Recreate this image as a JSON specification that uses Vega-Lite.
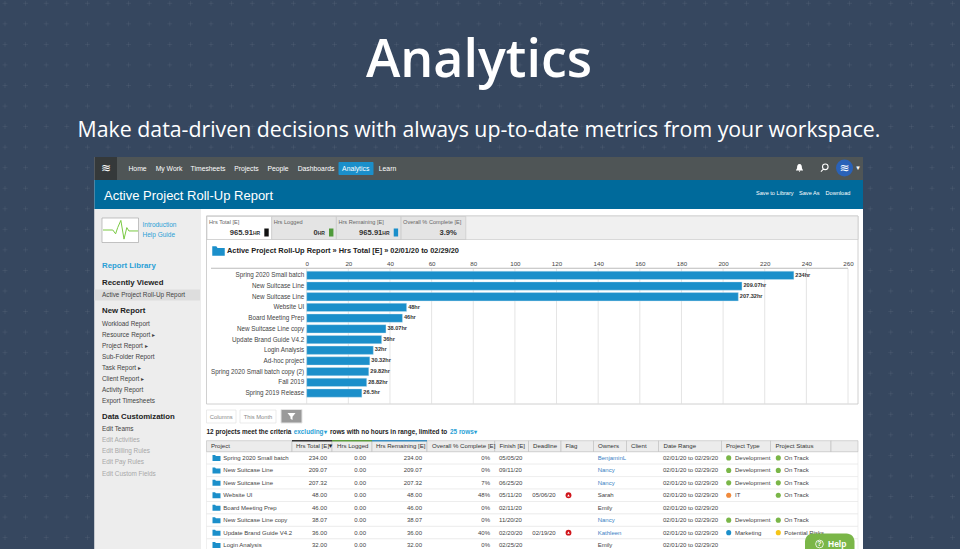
{"$schema":"https://vega.github.io/schema/vega-lite/v6.json","width":960,"height":549,"padding":0,"autosize":{"type":"none"},"background":"#36475f","data":{"values":[{"view":"app"}]},
"datasets":{"table":[
{"row":1,"project":"Spring 2020 Small batch","total":"234.00","logged":"0.00","remaining":"234.00","overall":"0%","finish":"05/05/20","deadline":"","flag":"","owner":"BenjaminL","linked":true,"range":"02/01/20 to 02/29/20","type":"Development","status":"On Track"},
{"row":2,"project":"New Suitcase Line","total":"209.07","logged":"0.00","remaining":"209.07","overall":"0%","finish":"09/11/20","deadline":"","flag":"","owner":"Nancy","linked":true,"range":"02/01/20 to 02/29/20","type":"Development","status":"On Track"},
{"row":3,"project":"New Suitcase Line","total":"207.32","logged":"0.00","remaining":"207.32","overall":"7%","finish":"06/25/20","deadline":"","flag":"","owner":"Nancy","linked":true,"range":"02/01/20 to 02/29/20","type":"Development","status":"On Track"},
{"row":4,"project":"Website UI","total":"48.00","logged":"0.00","remaining":"48.00","overall":"48%","finish":"05/11/20","deadline":"05/06/20","flag":"late","owner":"Sarah","linked":false,"range":"02/01/20 to 02/29/20","type":"IT","status":"On Track"},
{"row":5,"project":"Board Meeting Prep","total":"46.00","logged":"0.00","remaining":"46.00","overall":"0%","finish":"02/11/20","deadline":"","flag":"","owner":"Emily","linked":false,"range":"02/01/20 to 02/29/20","type":"","status":""},
{"row":6,"project":"New Suitcase Line copy","total":"38.07","logged":"0.00","remaining":"38.07","overall":"0%","finish":"11/20/20","deadline":"","flag":"","owner":"Nancy","linked":true,"range":"02/01/20 to 02/29/20","type":"Development","status":"On Track"},
{"row":7,"project":"Update Brand Guide V4.2","total":"36.00","logged":"0.00","remaining":"36.00","overall":"40%","finish":"02/20/20","deadline":"02/19/20","flag":"late","owner":"Kathleen","linked":true,"range":"02/01/20 to 02/29/20","type":"Marketing","status":"Potential Risks"},
{"row":8,"project":"Login Analysis","total":"32.00","logged":"0.00","remaining":"32.00","overall":"0%","finish":"02/25/20","deadline":"","flag":"","owner":"Emily","linked":false,"range":"02/01/20 to 02/29/20","type":"","status":""}],
"bars":[{"project":"Spring 2020 Small batch","hours":234,"label":"234hr"},{"project":"New Suitcase Line","hours":209.07,"label":"209.07hr"},{"project":"New Suitcase Line ","hours":207.32,"label":"207.32hr"},{"project":"Website UI","hours":48,"label":"48hr"},{"project":"Board Meeting Prep","hours":46,"label":"46hr"},{"project":"New Suitcase Line copy","hours":38.07,"label":"38.07hr"},{"project":"Update Brand Guide V4.2","hours":36,"label":"36hr"},{"project":"Login Analysis","hours":32,"label":"32hr"},{"project":"Ad-hoc project","hours":30.32,"label":"30.32hr"},{"project":"Spring 2020 Small batch copy (2)","hours":29.82,"label":"29.82hr"},{"project":"Fall 2019","hours":28.82,"label":"28.82hr"},{"project":"Spring 2019 Release","hours":26.5,"label":"26.5hr"}],
"tiles":[{"tile":"Hrs Total [E]","value":"965.91","unit":"HR","state":"on","key":"total"},{"tile":"Hrs Logged","value":"0","unit":"HR","state":"off","key":"logged"},{"tile":"Hrs Remaining [E]","value":"965.91","unit":"HR","state":"off","key":"remaining"},{"tile":"Overall % Complete [E]","value":"","unit":"","state":"off","key":""}]},
"config":{"view":{"stroke":null},"font":"Liberation Sans","text":{"baseline":"middle"}},
"resolve":{"scale":{"x":"independent","y":"independent","color":"independent"},"axis":{"x":"independent","y":"independent"}},
"layer":[
{"data":{"values":[{"i":0},{"i":1},{"i":2},{"i":3},{"i":4},{"i":5},{"i":6},{"i":7},{"i":8},{"i":9},{"i":10},{"i":11},{"i":12},{"i":13},{"i":14},{"i":15},{"i":16},{"i":17},{"i":18},{"i":19},{"i":20},{"i":21},{"i":22},{"i":23},{"i":24},{"i":25},{"i":26}]},"mark":{"type":"rule","color":"#ffffff","opacity":0.06,"strokeWidth":1,"strokeDash":[5,15.6],"strokeDashOffset":18.1},"encoding":{"y":{"field":"i","type":"quantitative","scale":{"domain":[0,26],"range":[3.3,537.6]},"axis":null},"x":{"datum":0,"scale":{"domain":[0,1],"range":[0,960]},"axis":null},"x2":{"datum":1}}},
{"data":{"values":[{"i":0},{"i":1},{"i":2},{"i":3},{"i":4},{"i":5},{"i":6},{"i":7},{"i":8},{"i":9},{"i":10},{"i":11},{"i":12},{"i":13},{"i":14},{"i":15},{"i":16},{"i":17},{"i":18},{"i":19},{"i":20},{"i":21},{"i":22},{"i":23},{"i":24},{"i":25},{"i":26},{"i":27},{"i":28},{"i":29},{"i":30},{"i":31},{"i":32},{"i":33},{"i":34},{"i":35},{"i":36},{"i":37},{"i":38},{"i":39},{"i":40},{"i":41},{"i":42},{"i":43},{"i":44},{"i":45},{"i":46}]},"mark":{"type":"rule","color":"#ffffff","opacity":0.06,"strokeWidth":1,"strokeDash":[5,15.55],"strokeDashOffset":-0.8},"encoding":{"x":{"field":"i","type":"quantitative","scale":{"domain":[0,46],"range":[5,952.6]},"axis":null},"y":{"datum":0,"scale":{"domain":[0,1],"range":[0,549]},"axis":null},"y2":{"datum":1}}},
{"mark":{"type":"text","text":"Analytics","font":"Open Sans","fontSize":52,"fontWeight":600,"color":"#ffffff","align":"center"},"encoding":{"x":{"datum":"hero","scale":{"type":"point","padding":0,"range":[479,479]},"axis":null},"y":{"datum":"title","scale":{"type":"point","padding":0,"range":[61,61]},"axis":null}}},
{"mark":{"type":"text","text":"Make data-driven decisions with always up-to-date metrics from your workspace.","font":"Open Sans","fontSize":21.3,"color":"#ffffff","align":"center"},"encoding":{"x":{"datum":"hero","scale":{"type":"point","padding":0,"range":[479,479]},"axis":null},"y":{"datum":"subtitle","scale":{"type":"point","padding":0,"range":[130.5,130.5]},"axis":null}}},
{"mark":{"type":"rect","color":"#ffffff"},"encoding":{"x":{"datum":"app","scale":{"type":"band","padding":0,"range":[94.5,863]},"axis":null},"y":{"datum":"app","scale":{"type":"band","padding":0,"range":[157,549]},"axis":null}}},
{"mark":{"type":"rect","color":"#4f5556"},"encoding":{"x":{"datum":"nav","scale":{"type":"band","padding":0,"range":[94.5,863]},"axis":null},"y":{"datum":"nav","scale":{"type":"band","padding":0,"range":[157,180]},"axis":null}}},
{"mark":{"type":"rect","color":"#35393a"},"encoding":{"x":{"datum":"logo","scale":{"type":"band","padding":0,"range":[94.5,117]},"axis":null},"y":{"datum":"logo","scale":{"type":"band","padding":0,"range":[157,180]},"axis":null}}},
{"mark":{"type":"text","text":"≋","font":"DejaVu Sans","fontSize":12,"color":"#ffffff","align":"center"},"encoding":{"x":{"datum":"logo","scale":{"type":"point","padding":0,"range":[106,106]},"axis":null},"y":{"datum":"logo","scale":{"type":"point","padding":0,"range":[168,168]},"axis":null}}},
{"data":{"values":[{"item":"Analytics"}]},"mark":{"type":"rect","color":"#1b8fca","cornerRadius":1},"encoding":{"x":{"field":"item","type":"nominal","scale":{"type":"band","padding":0,"range":[338.5,373.5]},"axis":null},"y":{"datum":"on","scale":{"type":"band","padding":0,"range":[162,175]},"axis":null}}},
{"mark":{"type":"text","text":"Home","fontSize":6.8,"color":"#ffffff","align":"center"},"encoding":{"x":{"datum":"nav","scale":{"type":"point","padding":0,"range":[137.5,137.5]},"axis":null},"y":{"datum":"nav","scale":{"type":"point","padding":0,"range":[168.7,168.7]},"axis":null}}},
{"mark":{"type":"text","text":"My Work","fontSize":6.8,"color":"#ffffff","align":"center"},"encoding":{"x":{"datum":"nav","scale":{"type":"point","padding":0,"range":[169,169]},"axis":null},"y":{"datum":"nav","scale":{"type":"point","padding":0,"range":[168.7,168.7]},"axis":null}}},
{"mark":{"type":"text","text":"Timesheets","fontSize":6.8,"color":"#ffffff","align":"center"},"encoding":{"x":{"datum":"nav","scale":{"type":"point","padding":0,"range":[208,208]},"axis":null},"y":{"datum":"nav","scale":{"type":"point","padding":0,"range":[168.7,168.7]},"axis":null}}},
{"mark":{"type":"text","text":"Projects","fontSize":6.8,"color":"#ffffff","align":"center"},"encoding":{"x":{"datum":"nav","scale":{"type":"point","padding":0,"range":[246.5,246.5]},"axis":null},"y":{"datum":"nav","scale":{"type":"point","padding":0,"range":[168.7,168.7]},"axis":null}}},
{"mark":{"type":"text","text":"People","fontSize":6.8,"color":"#ffffff","align":"center"},"encoding":{"x":{"datum":"nav","scale":{"type":"point","padding":0,"range":[278,278]},"axis":null},"y":{"datum":"nav","scale":{"type":"point","padding":0,"range":[168.7,168.7]},"axis":null}}},
{"mark":{"type":"text","text":"Dashboards","fontSize":6.8,"color":"#ffffff","align":"center"},"encoding":{"x":{"datum":"nav","scale":{"type":"point","padding":0,"range":[316,316]},"axis":null},"y":{"datum":"nav","scale":{"type":"point","padding":0,"range":[168.7,168.7]},"axis":null}}},
{"mark":{"type":"text","text":"Analytics","fontSize":6.8,"color":"#ffffff","align":"center"},"encoding":{"x":{"datum":"nav","scale":{"type":"point","padding":0,"range":[355.7,355.7]},"axis":null},"y":{"datum":"nav","scale":{"type":"point","padding":0,"range":[168.7,168.7]},"axis":null}}},
{"mark":{"type":"text","text":"Learn","fontSize":6.8,"color":"#ffffff","align":"center"},"encoding":{"x":{"datum":"nav","scale":{"type":"point","padding":0,"range":[387.5,387.5]},"axis":null},"y":{"datum":"nav","scale":{"type":"point","padding":0,"range":[168.7,168.7]},"axis":null}}},
{"mark":{"type":"point","filled":true,"color":"#ffffff","opacity":1,"size":64,"shape":"M0,-1 C0.5,-1 0.6,-0.5 0.6,-0.1 C0.6,0.3 0.9,0.5 0.9,0.6 L-0.9,0.6 C-0.9,0.5 -0.6,0.3 -0.6,-0.1 C-0.6,-0.5 -0.5,-1 0,-1 Z M-0.2,0.7 L0.2,0.7 L0,1 Z"},"encoding":{"x":{"datum":"bell","scale":{"type":"point","padding":0,"range":[799.5,799.5]},"axis":null},"y":{"datum":"bell","scale":{"type":"point","padding":0,"range":[168,168]},"axis":null}}},
{"mark":{"type":"point","filled":false,"color":"#ffffff","opacity":1,"strokeWidth":1.1,"size":64,"shape":"M-0.9,0.9 L-0.2,0.2 M0.9,-0.3 A0.7,0.7 0 1 1 -0.5,-0.3 A0.7,0.7 0 1 1 0.9,-0.3"},"encoding":{"x":{"datum":"search","scale":{"type":"point","padding":0,"range":[824.5,824.5]},"axis":null},"y":{"datum":"search","scale":{"type":"point","padding":0,"range":[168,168]},"axis":null}}},
{"mark":{"type":"point","filled":true,"shape":"circle","color":"#2a62b8","opacity":1,"size":290},"encoding":{"x":{"datum":"avatar","scale":{"type":"point","padding":0,"range":[844.5,844.5]},"axis":null},"y":{"datum":"avatar","scale":{"type":"point","padding":0,"range":[168,168]},"axis":null}}},
{"mark":{"type":"text","text":"≋","font":"DejaVu Sans","fontSize":12,"color":"#ffffff","align":"center"},"encoding":{"x":{"datum":"avatar","scale":{"type":"point","padding":0,"range":[844.5,844.5]},"axis":null},"y":{"datum":"avatar","scale":{"type":"point","padding":0,"range":[168,168]},"axis":null}}},
{"mark":{"type":"text","text":"▾","font":"DejaVu Sans","fontSize":7,"color":"#ffffff","align":"center"},"encoding":{"x":{"datum":"caret","scale":{"type":"point","padding":0,"range":[858,858]},"axis":null},"y":{"datum":"caret","scale":{"type":"point","padding":0,"range":[168,168]},"axis":null}}},
{"mark":{"type":"rect","color":"#006a9b"},"encoding":{"x":{"datum":"banner","scale":{"type":"band","padding":0,"range":[94.5,863]},"axis":null},"y":{"datum":"banner","scale":{"type":"band","padding":0,"range":[180,209]},"axis":null}}},
{"mark":{"type":"text","text":"Active Project Roll-Up Report","fontSize":13,"color":"#ffffff","align":"left"},"encoding":{"x":{"datum":"banner","scale":{"type":"point","padding":0,"range":[104,104]},"axis":null},"y":{"datum":"banner","scale":{"type":"point","padding":0,"range":[196,196]},"axis":null}}},
{"mark":{"type":"text","text":"Save to Library","fontSize":5.6,"color":"#ffffff","align":"left"},"encoding":{"x":{"datum":"a","scale":{"type":"point","padding":0,"range":[756,756]},"axis":null},"y":{"datum":"a","scale":{"type":"point","padding":0,"range":[192.5,192.5]},"axis":null}}},
{"mark":{"type":"text","text":"Save As","fontSize":5.6,"color":"#ffffff","align":"left"},"encoding":{"x":{"datum":"a","scale":{"type":"point","padding":0,"range":[799,799]},"axis":null},"y":{"datum":"a","scale":{"type":"point","padding":0,"range":[192.5,192.5]},"axis":null}}},
{"mark":{"type":"text","text":"Download","fontSize":5.6,"color":"#ffffff","align":"left"},"encoding":{"x":{"datum":"a","scale":{"type":"point","padding":0,"range":[825.5,825.5]},"axis":null},"y":{"datum":"a","scale":{"type":"point","padding":0,"range":[192.5,192.5]},"axis":null}}},
{"mark":{"type":"rect","color":"#ededed"},"encoding":{"x":{"datum":"side","scale":{"type":"band","padding":0,"range":[94.5,201]},"axis":null},"y":{"datum":"side","scale":{"type":"band","padding":0,"range":[209,549]},"axis":null}}},
{"mark":{"type":"rect","color":"#ffffff","stroke":"#aaaaaa","strokeWidth":0.7},"encoding":{"x":{"datum":"guide","scale":{"type":"band","padding":0,"range":[102,138.5]},"axis":null},"y":{"datum":"guide","scale":{"type":"band","padding":0,"range":[218,242.5]},"axis":null}}},
{"data":{"values":[{"t":0,"v":5},{"t":2.8,"v":5},{"t":3.6,"v":3.4},{"t":4.2,"v":6},{"t":5.1,"v":9},{"t":6,"v":1.2},{"t":6.8,"v":6},{"t":7.4,"v":4.6},{"t":10,"v":4.6}]},"mark":{"type":"line","color":"#7ac943","strokeWidth":1},"encoding":{"x":{"field":"t","type":"quantitative","scale":{"domain":[0,10],"range":[103,138]},"axis":null},"y":{"field":"v","type":"quantitative","scale":{"domain":[0,10],"range":[242,218]},"axis":null}}},
{"data":{"values":[{"t":"Introduction"},{"t":"Help Guide"}]},"mark":{"type":"text","fontSize":6.5,"color":"#2a9fd6","align":"left"},"encoding":{"x":{"datum":"s","scale":{"type":"point","padding":0,"range":[142.5,142.5]},"axis":null},"y":{"field":"t","type":"nominal","sort":null,"scale":{"type":"point","padding":0,"range":[225.3,234.8]},"axis":null},"text":{"field":"t"}}},
{"mark":{"type":"rect","color":"#dddddd"},"encoding":{"x":{"datum":"hl","scale":{"type":"band","padding":0,"range":[94.5,200]},"axis":null},"y":{"datum":"hl","scale":{"type":"band","padding":0,"range":[289.5,300.5]},"axis":null}}},
{"mark":{"type":"text","text":"Report Library","fontSize":7.8,"fontWeight":"bold","color":"#2a9fd6","align":"left"},"encoding":{"x":{"datum":"s","scale":{"type":"point","padding":0,"range":[102,102]},"axis":null},"y":{"datum":"s","scale":{"type":"point","padding":0,"range":[266,266]},"axis":null}}},
{"mark":{"type":"text","text":"Recently Viewed","fontSize":7.8,"fontWeight":"bold","color":"#222222","align":"left"},"encoding":{"x":{"datum":"s","scale":{"type":"point","padding":0,"range":[102,102]},"axis":null},"y":{"datum":"s","scale":{"type":"point","padding":0,"range":[283,283]},"axis":null}}},
{"mark":{"type":"text","text":"New Report","fontSize":7.8,"fontWeight":"bold","color":"#222222","align":"left"},"encoding":{"x":{"datum":"s","scale":{"type":"point","padding":0,"range":[102,102]},"axis":null},"y":{"datum":"s","scale":{"type":"point","padding":0,"range":[311.3,311.3]},"axis":null}}},
{"mark":{"type":"text","text":"Data Customization","fontSize":7.8,"fontWeight":"bold","color":"#222222","align":"left"},"encoding":{"x":{"datum":"s","scale":{"type":"point","padding":0,"range":[102,102]},"axis":null},"y":{"datum":"s","scale":{"type":"point","padding":0,"range":[417,417]},"axis":null}}},
{"mark":{"type":"text","text":"Active Project Roll-Up Report","fontSize":6.4,"color":"#444444","align":"left"},"encoding":{"x":{"datum":"s","scale":{"type":"point","padding":0,"range":[102,102]},"axis":null},"y":{"datum":"s","scale":{"type":"point","padding":0,"range":[295,295]},"axis":null}}},
{"data":{"values":[{"t":"Workload Report"},{"t":"Resource Report ▸"},{"t":"Project Report ▸"},{"t":"Sub-Folder Report"},{"t":"Task Report ▸"},{"t":"Client Report ▸"},{"t":"Activity Report"},{"t":"Export Timesheets"}]},"mark":{"type":"text","fontSize":6.4,"color":"#444444","align":"left"},"encoding":{"x":{"datum":"s","scale":{"type":"point","padding":0,"range":[102,102]},"axis":null},"y":{"field":"t","type":"nominal","sort":null,"scale":{"type":"point","padding":0,"range":[323.5,400.7]},"axis":null},"text":{"field":"t"}}},
{"data":{"values":[{"t":"Edit Teams","on":true},{"t":"Edit Activities","on":false},{"t":"Edit Billing Rules","on":false},{"t":"Edit Pay Rules","on":false},{"t":"Edit Custom Fields","on":false}]},"mark":{"type":"text","fontSize":6.4,"align":"left"},"encoding":{"x":{"datum":"s","scale":{"type":"point","padding":0,"range":[102,102]},"axis":null},"y":{"field":"t","type":"nominal","sort":null,"scale":{"type":"point","padding":0,"range":[429.3,473.5]},"axis":null},"text":{"field":"t"},"color":{"condition":{"test":"datum.on","value":"#444444"},"value":"#a8a8a8"}}},
{"mark":{"type":"rect","fill":"#ffffff","stroke":"#c4c4c4","strokeWidth":0.8},"encoding":{"x":{"datum":"box","scale":{"type":"band","padding":0,"range":[206.5,858]},"axis":null},"y":{"datum":"box","scale":{"type":"band","padding":0,"range":[216,404]},"axis":null}}},
{"mark":{"type":"rect","fill":"#f0f0f0","stroke":"#c4c4c4","strokeWidth":0.6},"encoding":{"x":{"datum":"strip","scale":{"type":"band","padding":0,"range":[206.5,858]},"axis":null},"y":{"datum":"strip","scale":{"type":"band","padding":0,"range":[216,239.5]},"axis":null}}},
{"data":{"name":"tiles"},"mark":{"type":"rect","stroke":"#c4c4c4","strokeWidth":0.6},"encoding":{"x":{"field":"tile","type":"nominal","sort":null,"scale":{"type":"band","paddingInner":0,"paddingOuter":0,"range":[207,465.8]},"axis":null},"y":{"datum":"tile","scale":{"type":"band","padding":0,"range":[216.5,239.5]},"axis":null},"color":{"field":"state","type":"nominal","scale":{"domain":["on","off"],"range":["#ffffff","#e4e4e4"]},"legend":null}}},
{"data":{"name":"tiles"},"mark":{"type":"text","fontSize":5.6,"color":"#666666","align":"left","dx":2},"encoding":{"x":{"field":"tile","type":"nominal","sort":null,"bandPosition":0,"scale":{"type":"band","paddingInner":0,"paddingOuter":0,"range":[207,465.8]},"axis":null},"y":{"datum":"tile","scale":{"type":"point","padding":0,"range":[222.3,222.3]},"axis":null},"text":{"field":"tile"}}},
{"data":{"name":"tiles"},"mark":{"type":"text","fontSize":7.6,"fontWeight":"bold","color":"#333333","align":"right"},"encoding":{"x":{"field":"tile","type":"nominal","sort":null,"bandPosition":0.71,"scale":{"type":"band","paddingInner":0,"paddingOuter":0,"range":[207,465.8]},"axis":null},"y":{"datum":"tile","scale":{"type":"point","padding":0,"range":[232.5,232.5]},"axis":null},"text":{"field":"value"}}},
{"data":{"name":"tiles"},"mark":{"type":"text","fontSize":5,"fontWeight":"bold","color":"#333333","align":"left"},"encoding":{"x":{"field":"tile","type":"nominal","sort":null,"bandPosition":0.71,"scale":{"type":"band","paddingInner":0,"paddingOuter":0,"range":[207,465.8]},"axis":null},"y":{"datum":"tile","scale":{"type":"point","padding":0,"range":[232.8,232.8]},"axis":null},"text":{"field":"unit"}}},
{"data":{"values":[{"v":"3.9%"}]},"mark":{"type":"text","fontSize":7.6,"fontWeight":"bold","color":"#333333","align":"right"},"encoding":{"x":{"datum":"v","scale":{"type":"point","padding":0,"range":[456.8,456.8]},"axis":null},"y":{"datum":"v","scale":{"type":"point","padding":0,"range":[232.5,232.5]},"axis":null},"text":{"field":"v"}}},
{"data":{"name":"tiles"},"transform":[{"filter":"datum.key"}],"mark":{"type":"point","filled":true,"opacity":1,"strokeWidth":0,"size":64,"shape":"M-0.55,-1 L0.55,-1 L0.55,1 L-0.55,1 Z"},"encoding":{"x":{"field":"tile","type":"nominal","sort":null,"bandPosition":0.92,"scale":{"type":"band","paddingInner":0,"paddingOuter":0,"range":[207,401.1]},"axis":null},"y":{"datum":"tile","scale":{"type":"point","padding":0,"range":[232.5,232.5]},"axis":null},"color":{"field":"key","type":"nominal","scale":{"domain":["total","logged","remaining"],"range":["#111111","#4f9a3a","#1b8fca"]},"legend":null}}},
{"mark":{"type":"point","filled":true,"opacity":1,"strokeWidth":0,"color":"#1b8fca","size":156,"shape":"M-1,-0.75 L-0.35,-0.75 L-0.15,-0.5 L1,-0.5 L1,0.75 L-1,0.75 Z"},"encoding":{"x":{"datum":"c","scale":{"type":"point","padding":0,"range":[218.5,218.5]},"axis":null},"y":{"datum":"c","scale":{"type":"point","padding":0,"range":[251,251]},"axis":null}}},
{"mark":{"type":"text","text":"Active Project Roll-Up Report » Hrs Total [E] » 02/01/20 to 02/29/20","fontSize":7.4,"fontWeight":"bold","color":"#222222","align":"left"},"encoding":{"x":{"datum":"c","scale":{"type":"point","padding":0,"range":[227,227]},"axis":null},"y":{"datum":"c","scale":{"type":"point","padding":0,"range":[251.3,251.3]},"axis":null}}},
{"data":{"values":[{"tick":0},{"tick":20},{"tick":40},{"tick":60},{"tick":80},{"tick":100},{"tick":120},{"tick":140},{"tick":160},{"tick":180},{"tick":200},{"tick":220},{"tick":240},{"tick":260}]},"mark":{"type":"rule","color":"#dddddd","strokeWidth":0.8},"encoding":{"x":{"field":"tick","type":"quantitative","scale":{"domain":[0,260],"range":[306.7,848]},"axis":null},"y":{"datum":0,"scale":{"domain":[0,1],"range":[268.3,404]},"axis":null},"y2":{"datum":1}}},
{"mark":{"type":"rect","color":"#bbbbbb"},"encoding":{"x":{"datum":"line","scale":{"type":"band","padding":0,"range":[211,848]},"axis":null},"y":{"datum":"line","scale":{"type":"band","padding":0,"range":[267.8,268.8]},"axis":null}}},
{"data":{"name":"bars"},"mark":{"type":"bar","color":"#1b8fca","stroke":"#cfe6f3","strokeWidth":0.4},"encoding":{"x":{"field":"hours","type":"quantitative","scale":{"domain":[0,260],"range":[306.7,848]},"axis":{"orient":"top","offset":-268.3,"zindex":1,"values":[0,20,40,60,80,100,120,140,160,180,200,220,240,260],"domain":false,"ticks":false,"grid":false,"labelFontSize":6.2,"labelColor":"#444444","labelPadding":2,"labelFlush":false,"title":null}},"y":{"field":"project","type":"nominal","sort":null,"scale":{"type":"band","paddingInner":0.22,"paddingOuter":0.11,"range":[270,398.4]},"axis":{"orient":"left","offset":-306.7,"zindex":1,"domain":false,"ticks":false,"grid":false,"labelFontSize":6.3,"labelColor":"#444444","labelPadding":3,"labelLimit":200,"title":null}}}},
{"data":{"name":"bars"},"mark":{"type":"text","fontSize":5.6,"fontWeight":"bold","color":"#333333","align":"left","dx":1.5,"dy":-0.8},"encoding":{"x":{"field":"hours","type":"quantitative","scale":{"domain":[0,260],"range":[306.7,848]},"axis":null},"y":{"field":"project","type":"nominal","sort":null,"scale":{"type":"band","paddingInner":0.22,"paddingOuter":0.11,"range":[270,398.4]},"axis":null},"text":{"field":"label"}}},
{"data":{"values":[{"b":"Columns"}]},"mark":{"type":"rect","fill":"#ffffff","stroke":"#e2e2e2","strokeWidth":0.7},"encoding":{"x":{"field":"b","type":"nominal","scale":{"type":"band","padding":0,"range":[206.5,236]},"axis":null},"y":{"datum":"b","scale":{"type":"band","padding":0,"range":[410,423]},"axis":null}}},
{"data":{"values":[{"b":"This Month"}]},"mark":{"type":"rect","fill":"#ffffff","stroke":"#e2e2e2","strokeWidth":0.7},"encoding":{"x":{"field":"b","type":"nominal","scale":{"type":"band","padding":0,"range":[240,276]},"axis":null},"y":{"datum":"b","scale":{"type":"band","padding":0,"range":[410,423]},"axis":null}}},
{"data":{"values":[{"b":"Columns"}]},"mark":{"type":"text","fontSize":5.8,"color":"#888888","align":"center"},"encoding":{"x":{"field":"b","type":"nominal","scale":{"type":"band","padding":0,"range":[206.5,236]},"axis":null},"y":{"datum":"b","scale":{"type":"point","padding":0,"range":[416.5,416.5]},"axis":null},"text":{"field":"b"}}},
{"data":{"values":[{"b":"This Month"}]},"mark":{"type":"text","fontSize":5.8,"color":"#888888","align":"center"},"encoding":{"x":{"field":"b","type":"nominal","scale":{"type":"band","padding":0,"range":[240,276]},"axis":null},"y":{"datum":"b","scale":{"type":"point","padding":0,"range":[416.5,416.5]},"axis":null},"text":{"field":"b"}}},
{"mark":{"type":"rect","color":"#9a9a9a","stroke":"#e4e4e4","strokeWidth":1},"encoding":{"x":{"datum":"f","scale":{"type":"band","padding":0,"range":[281,302]},"axis":null},"y":{"datum":"f","scale":{"type":"band","padding":0,"range":[409.5,423]},"axis":null}}},
{"mark":{"type":"point","filled":true,"opacity":1,"strokeWidth":0,"color":"#ffffff","size":64,"shape":"M-1,-0.8 L1,-0.8 L0.25,0.1 L0.25,0.9 L-0.25,0.6 L-0.25,0.1 Z"},"encoding":{"x":{"datum":"f","scale":{"type":"point","padding":0,"range":[291.5,291.5]},"axis":null},"y":{"datum":"f","scale":{"type":"point","padding":0,"range":[416.3,416.3]},"axis":null}}},
{"mark":{"type":"text","text":"12 projects meet the criteria","fontSize":6.4,"fontWeight":"bold","color":"#222222","align":"left"},"encoding":{"x":{"datum":"n","scale":{"type":"point","padding":0,"range":[206.5,206.5]},"axis":null},"y":{"datum":"n","scale":{"type":"point","padding":0,"range":[432,432]},"axis":null}}},
{"mark":{"type":"text","text":"excluding▾","fontSize":6.4,"fontWeight":"bold","color":"#2a9fd6","align":"left"},"encoding":{"x":{"datum":"n","scale":{"type":"point","padding":0,"range":[293.7,293.7]},"axis":null},"y":{"datum":"n","scale":{"type":"point","padding":0,"range":[432,432]},"axis":null}}},
{"mark":{"type":"text","text":"rows with no hours in range, limited to","fontSize":6.4,"fontWeight":"bold","color":"#222222","align":"left"},"encoding":{"x":{"datum":"n","scale":{"type":"point","padding":0,"range":[330,330]},"axis":null},"y":{"datum":"n","scale":{"type":"point","padding":0,"range":[432,432]},"axis":null}}},
{"mark":{"type":"text","text":"25 rows▾","fontSize":6.4,"fontWeight":"bold","color":"#2a9fd6","align":"left"},"encoding":{"x":{"datum":"n","scale":{"type":"point","padding":0,"range":[450,450]},"axis":null},"y":{"datum":"n","scale":{"type":"point","padding":0,"range":[432,432]},"axis":null}}},
{"data":{"name":"table"},"mark":{"type":"rect","fill":"#ffffff","stroke":"#e6e6e6","strokeWidth":0.6},"encoding":{"x":{"datum":"t","scale":{"type":"band","padding":0,"range":[206.5,858]},"axis":null},"y":{"field":"row","type":"ordinal","scale":{"type":"band","paddingInner":0,"paddingOuter":0,"domain":[1,2,3,4,5,6,7,8],"range":[451.7,551.3]},"axis":null}}},
{"data":{"values":[{"c":"Project"}]},"mark":{"type":"rect","fill":"#ececec","stroke":"#bdbdbd","strokeWidth":0.6},"encoding":{"x":{"field":"c","type":"nominal","scale":{"type":"band","padding":0,"range":[206.5,292]},"axis":null},"y":{"datum":"h","scale":{"type":"band","padding":0,"range":[440.7,451.7]},"axis":null}}},
{"data":{"values":[{"c":"Hrs Total [E]"}]},"mark":{"type":"rect","fill":"#ececec","stroke":"#bdbdbd","strokeWidth":0.6},"encoding":{"x":{"field":"c","type":"nominal","scale":{"type":"band","padding":0,"range":[292,332]},"axis":null},"y":{"datum":"h","scale":{"type":"band","padding":0,"range":[440.7,451.7]},"axis":null}}},
{"data":{"values":[{"c":"Hrs Logged"}]},"mark":{"type":"rect","fill":"#ececec","stroke":"#bdbdbd","strokeWidth":0.6},"encoding":{"x":{"field":"c","type":"nominal","scale":{"type":"band","padding":0,"range":[332,372]},"axis":null},"y":{"datum":"h","scale":{"type":"band","padding":0,"range":[440.7,451.7]},"axis":null}}},
{"data":{"values":[{"c":"Hrs Remaining [E]"}]},"mark":{"type":"rect","fill":"#ececec","stroke":"#bdbdbd","strokeWidth":0.6},"encoding":{"x":{"field":"c","type":"nominal","scale":{"type":"band","padding":0,"range":[372,427]},"axis":null},"y":{"datum":"h","scale":{"type":"band","padding":0,"range":[440.7,451.7]},"axis":null}}},
{"data":{"values":[{"c":"Overall % Complete [E]"}]},"mark":{"type":"rect","fill":"#ececec","stroke":"#bdbdbd","strokeWidth":0.6},"encoding":{"x":{"field":"c","type":"nominal","scale":{"type":"band","padding":0,"range":[427,494.7]},"axis":null},"y":{"datum":"h","scale":{"type":"band","padding":0,"range":[440.7,451.7]},"axis":null}}},
{"data":{"values":[{"c":"Finish [E]"}]},"mark":{"type":"rect","fill":"#ececec","stroke":"#bdbdbd","strokeWidth":0.6},"encoding":{"x":{"field":"c","type":"nominal","scale":{"type":"band","padding":0,"range":[494.7,528.5]},"axis":null},"y":{"datum":"h","scale":{"type":"band","padding":0,"range":[440.7,451.7]},"axis":null}}},
{"data":{"values":[{"c":"Deadline"}]},"mark":{"type":"rect","fill":"#ececec","stroke":"#bdbdbd","strokeWidth":0.6},"encoding":{"x":{"field":"c","type":"nominal","scale":{"type":"band","padding":0,"range":[528.5,561]},"axis":null},"y":{"datum":"h","scale":{"type":"band","padding":0,"range":[440.7,451.7]},"axis":null}}},
{"data":{"values":[{"c":"Flag"}]},"mark":{"type":"rect","fill":"#ececec","stroke":"#bdbdbd","strokeWidth":0.6},"encoding":{"x":{"field":"c","type":"nominal","scale":{"type":"band","padding":0,"range":[561,593.5]},"axis":null},"y":{"datum":"h","scale":{"type":"band","padding":0,"range":[440.7,451.7]},"axis":null}}},
{"data":{"values":[{"c":"Owners"}]},"mark":{"type":"rect","fill":"#ececec","stroke":"#bdbdbd","strokeWidth":0.6},"encoding":{"x":{"field":"c","type":"nominal","scale":{"type":"band","padding":0,"range":[593.5,626.5]},"axis":null},"y":{"datum":"h","scale":{"type":"band","padding":0,"range":[440.7,451.7]},"axis":null}}},
{"data":{"values":[{"c":"Client"}]},"mark":{"type":"rect","fill":"#ececec","stroke":"#bdbdbd","strokeWidth":0.6},"encoding":{"x":{"field":"c","type":"nominal","scale":{"type":"band","padding":0,"range":[626.5,658.5]},"axis":null},"y":{"datum":"h","scale":{"type":"band","padding":0,"range":[440.7,451.7]},"axis":null}}},
{"data":{"values":[{"c":"Date Range"}]},"mark":{"type":"rect","fill":"#ececec","stroke":"#bdbdbd","strokeWidth":0.6},"encoding":{"x":{"field":"c","type":"nominal","scale":{"type":"band","padding":0,"range":[658.5,721.5]},"axis":null},"y":{"datum":"h","scale":{"type":"band","padding":0,"range":[440.7,451.7]},"axis":null}}},
{"data":{"values":[{"c":"Project Type"}]},"mark":{"type":"rect","fill":"#ececec","stroke":"#bdbdbd","strokeWidth":0.6},"encoding":{"x":{"field":"c","type":"nominal","scale":{"type":"band","padding":0,"range":[721.5,770.5]},"axis":null},"y":{"datum":"h","scale":{"type":"band","padding":0,"range":[440.7,451.7]},"axis":null}}},
{"data":{"values":[{"c":"Project Status"}]},"mark":{"type":"rect","fill":"#ececec","stroke":"#bdbdbd","strokeWidth":0.6},"encoding":{"x":{"field":"c","type":"nominal","scale":{"type":"band","padding":0,"range":[770.5,831]},"axis":null},"y":{"datum":"h","scale":{"type":"band","padding":0,"range":[440.7,451.7]},"axis":null}}},
{"data":{"values":[{"c":""}]},"mark":{"type":"rect","fill":"#ececec","stroke":"#bdbdbd","strokeWidth":0.6},"encoding":{"x":{"field":"c","type":"nominal","scale":{"type":"band","padding":0,"range":[831,858]},"axis":null},"y":{"datum":"h","scale":{"type":"band","padding":0,"range":[440.7,451.7]},"axis":null}}},
{"data":{"values":[{"c":"Hrs Total [E]"}]},"mark":{"type":"rect","color":"#333333"},"encoding":{"x":{"field":"c","type":"nominal","scale":{"type":"band","padding":0,"range":[292,332]},"axis":null},"y":{"datum":"h","scale":{"type":"band","padding":0,"range":[440,441.5]},"axis":null}}},
{"data":{"values":[{"c":"Hrs Logged"}]},"mark":{"type":"rect","color":"#5b9a3c"},"encoding":{"x":{"field":"c","type":"nominal","scale":{"type":"band","padding":0,"range":[332,372]},"axis":null},"y":{"datum":"h","scale":{"type":"band","padding":0,"range":[440,441.5]},"axis":null}}},
{"data":{"values":[{"c":"Hrs Remaining [E]"}]},"mark":{"type":"rect","color":"#3a8dbf"},"encoding":{"x":{"field":"c","type":"nominal","scale":{"type":"band","padding":0,"range":[372,427]},"axis":null},"y":{"datum":"h","scale":{"type":"band","padding":0,"range":[440,441.5]},"axis":null}}},
{"data":{"values":[{"c":"Project"}]},"mark":{"type":"text","fontSize":6.1,"color":"#333333","align":"left"},"encoding":{"x":{"field":"c","type":"nominal","scale":{"type":"point","padding":0,"range":[211,211]},"axis":null},"y":{"datum":"h","scale":{"type":"point","padding":0,"range":[446,446]},"axis":null},"text":{"field":"c"}}},
{"data":{"values":[{"c":"Hrs Total [E]"}]},"mark":{"type":"text","fontSize":6.1,"color":"#333333","align":"left"},"encoding":{"x":{"field":"c","type":"nominal","scale":{"type":"point","padding":0,"range":[296,296]},"axis":null},"y":{"datum":"h","scale":{"type":"point","padding":0,"range":[446,446]},"axis":null},"text":{"field":"c"}}},
{"mark":{"type":"text","text":"▾","font":"DejaVu Sans","fontSize":7,"color":"#222222","align":"center"},"encoding":{"x":{"datum":"h","scale":{"type":"point","padding":0,"range":[330.5,330.5]},"axis":null},"y":{"datum":"h","scale":{"type":"point","padding":0,"range":[446,446]},"axis":null}}},
{"data":{"values":[{"c":"Hrs Logged"}]},"mark":{"type":"text","fontSize":6.1,"color":"#333333","align":"left"},"encoding":{"x":{"field":"c","type":"nominal","scale":{"type":"point","padding":0,"range":[337,337]},"axis":null},"y":{"datum":"h","scale":{"type":"point","padding":0,"range":[446,446]},"axis":null},"text":{"field":"c"}}},
{"data":{"values":[{"c":"Hrs Remaining [E]"}]},"mark":{"type":"text","fontSize":6.1,"color":"#333333","align":"left"},"encoding":{"x":{"field":"c","type":"nominal","scale":{"type":"point","padding":0,"range":[376,376]},"axis":null},"y":{"datum":"h","scale":{"type":"point","padding":0,"range":[446,446]},"axis":null},"text":{"field":"c"}}},
{"data":{"values":[{"c":"Overall % Complete [E]"}]},"mark":{"type":"text","fontSize":6.1,"color":"#333333","align":"left"},"encoding":{"x":{"field":"c","type":"nominal","scale":{"type":"point","padding":0,"range":[432,432]},"axis":null},"y":{"datum":"h","scale":{"type":"point","padding":0,"range":[446,446]},"axis":null},"text":{"field":"c"}}},
{"data":{"values":[{"c":"Finish [E]"}]},"mark":{"type":"text","fontSize":6.1,"color":"#333333","align":"left"},"encoding":{"x":{"field":"c","type":"nominal","scale":{"type":"point","padding":0,"range":[499.5,499.5]},"axis":null},"y":{"datum":"h","scale":{"type":"point","padding":0,"range":[446,446]},"axis":null},"text":{"field":"c"}}},
{"data":{"values":[{"c":"Deadline"}]},"mark":{"type":"text","fontSize":6.1,"color":"#333333","align":"left"},"encoding":{"x":{"field":"c","type":"nominal","scale":{"type":"point","padding":0,"range":[533,533]},"axis":null},"y":{"datum":"h","scale":{"type":"point","padding":0,"range":[446,446]},"axis":null},"text":{"field":"c"}}},
{"data":{"values":[{"c":"Flag"}]},"mark":{"type":"text","fontSize":6.1,"color":"#333333","align":"left"},"encoding":{"x":{"field":"c","type":"nominal","scale":{"type":"point","padding":0,"range":[565.5,565.5]},"axis":null},"y":{"datum":"h","scale":{"type":"point","padding":0,"range":[446,446]},"axis":null},"text":{"field":"c"}}},
{"data":{"values":[{"c":"Owners"}]},"mark":{"type":"text","fontSize":6.1,"color":"#333333","align":"left"},"encoding":{"x":{"field":"c","type":"nominal","scale":{"type":"point","padding":0,"range":[598,598]},"axis":null},"y":{"datum":"h","scale":{"type":"point","padding":0,"range":[446,446]},"axis":null},"text":{"field":"c"}}},
{"data":{"values":[{"c":"Client"}]},"mark":{"type":"text","fontSize":6.1,"color":"#333333","align":"left"},"encoding":{"x":{"field":"c","type":"nominal","scale":{"type":"point","padding":0,"range":[631,631]},"axis":null},"y":{"datum":"h","scale":{"type":"point","padding":0,"range":[446,446]},"axis":null},"text":{"field":"c"}}},
{"data":{"values":[{"c":"Date Range"}]},"mark":{"type":"text","fontSize":6.1,"color":"#333333","align":"left"},"encoding":{"x":{"field":"c","type":"nominal","scale":{"type":"point","padding":0,"range":[663.5,663.5]},"axis":null},"y":{"datum":"h","scale":{"type":"point","padding":0,"range":[446,446]},"axis":null},"text":{"field":"c"}}},
{"data":{"values":[{"c":"Project Type"}]},"mark":{"type":"text","fontSize":6.1,"color":"#333333","align":"left"},"encoding":{"x":{"field":"c","type":"nominal","scale":{"type":"point","padding":0,"range":[726,726]},"axis":null},"y":{"datum":"h","scale":{"type":"point","padding":0,"range":[446,446]},"axis":null},"text":{"field":"c"}}},
{"data":{"values":[{"c":"Project Status"}]},"mark":{"type":"text","fontSize":6.1,"color":"#333333","align":"left"},"encoding":{"x":{"field":"c","type":"nominal","scale":{"type":"point","padding":0,"range":[775.5,775.5]},"axis":null},"y":{"datum":"h","scale":{"type":"point","padding":0,"range":[446,446]},"axis":null},"text":{"field":"c"}}},
{"data":{"name":"table"},"mark":{"type":"point","filled":true,"opacity":1,"strokeWidth":0,"color":"#1b8fca","size":64,"shape":"M-1,-0.75 L-0.35,-0.75 L-0.15,-0.5 L1,-0.5 L1,0.75 L-1,0.75 Z"},"encoding":{"x":{"datum":"icon","scale":{"type":"point","padding":0,"range":[216.5,216.5]},"axis":null},"y":{"field":"row","type":"ordinal","scale":{"type":"band","paddingInner":0,"paddingOuter":0,"domain":[1,2,3,4,5,6,7,8],"range":[451.7,551.3]},"axis":null}}},
{"data":{"name":"table"},"mark":{"type":"text","fontSize":6,"color":"#444444","align":"left"},"encoding":{"x":{"datum":"project","scale":{"type":"point","padding":0,"range":[223.3,223.3]},"axis":null},"y":{"field":"row","type":"ordinal","scale":{"type":"band","paddingInner":0,"paddingOuter":0,"domain":[1,2,3,4,5,6,7,8],"range":[451.7,551.3]},"axis":null},"text":{"field":"project"}}},
{"data":{"name":"table"},"mark":{"type":"text","fontSize":6,"color":"#444444","align":"right"},"encoding":{"x":{"datum":"total","scale":{"type":"point","padding":0,"range":[327,327]},"axis":null},"y":{"field":"row","type":"ordinal","scale":{"type":"band","paddingInner":0,"paddingOuter":0,"domain":[1,2,3,4,5,6,7,8],"range":[451.7,551.3]},"axis":null},"text":{"field":"total"}}},
{"data":{"name":"table"},"mark":{"type":"text","fontSize":6,"color":"#444444","align":"right"},"encoding":{"x":{"datum":"logged","scale":{"type":"point","padding":0,"range":[366,366]},"axis":null},"y":{"field":"row","type":"ordinal","scale":{"type":"band","paddingInner":0,"paddingOuter":0,"domain":[1,2,3,4,5,6,7,8],"range":[451.7,551.3]},"axis":null},"text":{"field":"logged"}}},
{"data":{"name":"table"},"mark":{"type":"text","fontSize":6,"color":"#444444","align":"right"},"encoding":{"x":{"datum":"remaining","scale":{"type":"point","padding":0,"range":[422,422]},"axis":null},"y":{"field":"row","type":"ordinal","scale":{"type":"band","paddingInner":0,"paddingOuter":0,"domain":[1,2,3,4,5,6,7,8],"range":[451.7,551.3]},"axis":null},"text":{"field":"remaining"}}},
{"data":{"name":"table"},"mark":{"type":"text","fontSize":6,"color":"#444444","align":"right"},"encoding":{"x":{"datum":"overall","scale":{"type":"point","padding":0,"range":[490,490]},"axis":null},"y":{"field":"row","type":"ordinal","scale":{"type":"band","paddingInner":0,"paddingOuter":0,"domain":[1,2,3,4,5,6,7,8],"range":[451.7,551.3]},"axis":null},"text":{"field":"overall"}}},
{"data":{"name":"table"},"mark":{"type":"text","fontSize":6,"color":"#444444","align":"left"},"encoding":{"x":{"datum":"finish","scale":{"type":"point","padding":0,"range":[499,499]},"axis":null},"y":{"field":"row","type":"ordinal","scale":{"type":"band","paddingInner":0,"paddingOuter":0,"domain":[1,2,3,4,5,6,7,8],"range":[451.7,551.3]},"axis":null},"text":{"field":"finish"}}},
{"data":{"name":"table"},"mark":{"type":"text","fontSize":6,"color":"#444444","align":"left"},"encoding":{"x":{"datum":"deadline","scale":{"type":"point","padding":0,"range":[532.3,532.3]},"axis":null},"y":{"field":"row","type":"ordinal","scale":{"type":"band","paddingInner":0,"paddingOuter":0,"domain":[1,2,3,4,5,6,7,8],"range":[451.7,551.3]},"axis":null},"text":{"field":"deadline"}}},
{"data":{"name":"table"},"transform":[{"filter":"datum.flag"}],"mark":{"type":"point","filled":true,"shape":"circle","opacity":1,"strokeWidth":0,"color":"#d0151b","size":34},"encoding":{"x":{"datum":"flag","scale":{"type":"point","padding":0,"range":[568.5,568.5]},"axis":null},"y":{"field":"row","type":"ordinal","scale":{"type":"band","paddingInner":0,"paddingOuter":0,"domain":[1,2,3,4,5,6,7,8],"range":[451.7,551.3]},"axis":null}}},
{"data":{"name":"table"},"transform":[{"filter":"datum.flag"}],"mark":{"type":"point","filled":true,"shape":"triangle-up","opacity":1,"strokeWidth":0,"color":"#ffffff","size":7},"encoding":{"x":{"datum":"flag","scale":{"type":"point","padding":0,"range":[568.5,568.5]},"axis":null},"y":{"field":"row","type":"ordinal","scale":{"type":"band","paddingInner":0,"paddingOuter":0,"domain":[1,2,3,4,5,6,7,8],"range":[451.7,551.3]},"axis":null}}},
{"data":{"name":"table"},"mark":{"type":"text","fontSize":6,"align":"left"},"encoding":{"x":{"datum":"owner","scale":{"type":"point","padding":0,"range":[597.7,597.7]},"axis":null},"y":{"field":"row","type":"ordinal","scale":{"type":"band","paddingInner":0,"paddingOuter":0,"domain":[1,2,3,4,5,6,7,8],"range":[451.7,551.3]},"axis":null},"text":{"field":"owner"},"color":{"condition":{"test":"datum.linked","value":"#3b7fc4"},"value":"#444444"}}},
{"data":{"name":"table"},"mark":{"type":"text","fontSize":6,"color":"#444444","align":"left"},"encoding":{"x":{"datum":"range","scale":{"type":"point","padding":0,"range":[663,663]},"axis":null},"y":{"field":"row","type":"ordinal","scale":{"type":"band","paddingInner":0,"paddingOuter":0,"domain":[1,2,3,4,5,6,7,8],"range":[451.7,551.3]},"axis":null},"text":{"field":"range"}}},
{"data":{"name":"table"},"transform":[{"filter":"datum.type"}],"mark":{"type":"point","filled":true,"shape":"circle","opacity":1,"strokeWidth":0,"size":26},"encoding":{"x":{"datum":"type","scale":{"type":"point","padding":0,"range":[728.7,728.7]},"axis":null},"y":{"field":"row","type":"ordinal","scale":{"type":"band","paddingInner":0,"paddingOuter":0,"domain":[1,2,3,4,5,6,7,8],"range":[451.7,551.3]},"axis":null},"color":{"field":"type","type":"nominal","scale":{"domain":["Development","IT","Marketing"],"range":["#7ab648","#f08a3c","#1b8fca"]},"legend":null}}},
{"data":{"name":"table"},"mark":{"type":"text","fontSize":6,"color":"#444444","align":"left"},"encoding":{"x":{"datum":"type","scale":{"type":"point","padding":0,"range":[735,735]},"axis":null},"y":{"field":"row","type":"ordinal","scale":{"type":"band","paddingInner":0,"paddingOuter":0,"domain":[1,2,3,4,5,6,7,8],"range":[451.7,551.3]},"axis":null},"text":{"field":"type"}}},
{"data":{"name":"table"},"transform":[{"filter":"datum.status"}],"mark":{"type":"point","filled":true,"shape":"circle","opacity":1,"strokeWidth":0,"size":26},"encoding":{"x":{"datum":"status","scale":{"type":"point","padding":0,"range":[778.3,778.3]},"axis":null},"y":{"field":"row","type":"ordinal","scale":{"type":"band","paddingInner":0,"paddingOuter":0,"domain":[1,2,3,4,5,6,7,8],"range":[451.7,551.3]},"axis":null},"color":{"field":"status","type":"nominal","scale":{"domain":["On Track","Potential Risks"],"range":["#7ab648","#f5c518"]},"legend":null}}},
{"data":{"name":"table"},"mark":{"type":"text","fontSize":6,"color":"#444444","align":"left"},"encoding":{"x":{"datum":"status","scale":{"type":"point","padding":0,"range":[784.3,784.3]},"axis":null},"y":{"field":"row","type":"ordinal","scale":{"type":"band","paddingInner":0,"paddingOuter":0,"domain":[1,2,3,4,5,6,7,8],"range":[451.7,551.3]},"axis":null},"text":{"field":"status"}}},
{"mark":{"type":"rect","color":"#7ab648","cornerRadius":8},"encoding":{"x":{"datum":"help","scale":{"type":"band","padding":0,"range":[805,854.5]},"axis":null},"y":{"datum":"help","scale":{"type":"band","padding":0,"range":[533.5,560]},"axis":null}}},
{"mark":{"type":"point","filled":false,"shape":"circle","opacity":1,"color":"#ffffff","strokeWidth":0.8,"size":60},"encoding":{"x":{"datum":"help","scale":{"type":"point","padding":0,"range":[819.5,819.5]},"axis":null},"y":{"datum":"help","scale":{"type":"point","padding":0,"range":[544,544]},"axis":null}}},
{"mark":{"type":"text","text":"?","fontSize":7,"fontWeight":"bold","color":"#ffffff","align":"center"},"encoding":{"x":{"datum":"help","scale":{"type":"point","padding":0,"range":[819.5,819.5]},"axis":null},"y":{"datum":"help","scale":{"type":"point","padding":0,"range":[544.3,544.3]},"axis":null}}},
{"mark":{"type":"text","text":"Help","fontSize":8.5,"fontWeight":"bold","color":"#ffffff","align":"left"},"encoding":{"x":{"datum":"help","scale":{"type":"point","padding":0,"range":[828,828]},"axis":null},"y":{"datum":"help","scale":{"type":"point","padding":0,"range":[544.3,544.3]},"axis":null}}}
]}
